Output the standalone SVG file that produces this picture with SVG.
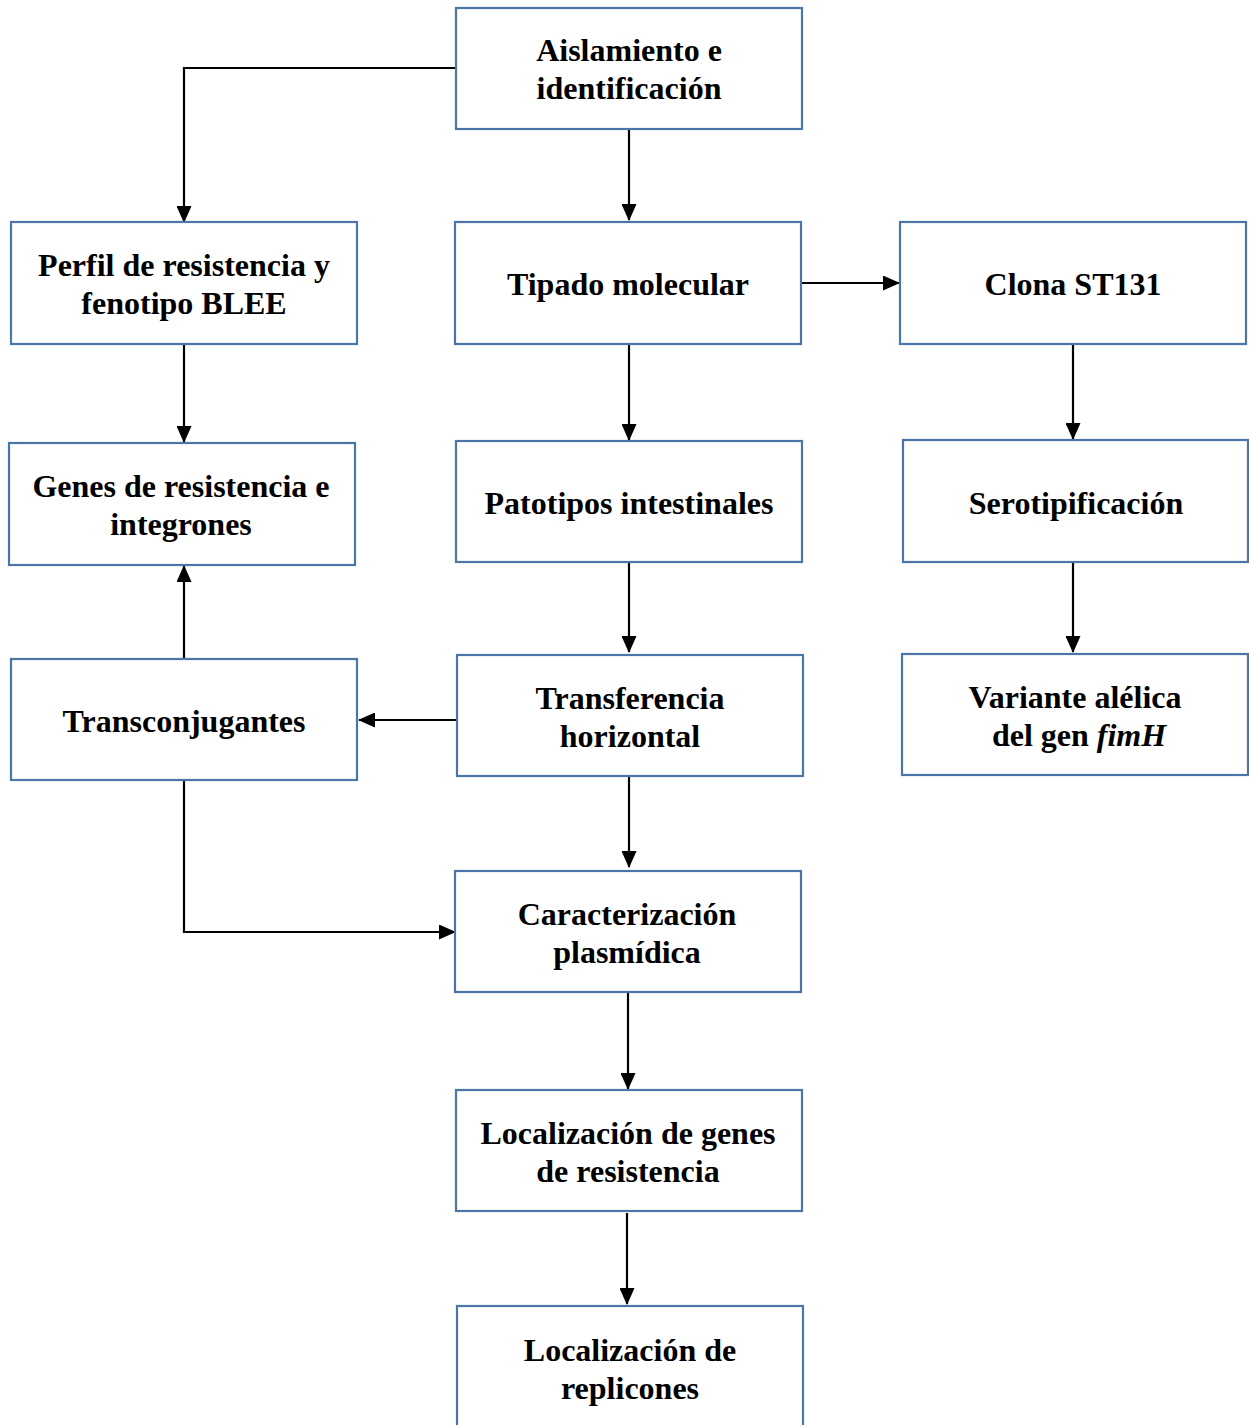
<svg xmlns="http://www.w3.org/2000/svg" width="1249" height="1425" viewBox="0 0 1249 1425">
<style>
.box{fill:#fff;stroke:#4a76a8;stroke-width:2.2}
.t{font-family:"Liberation Serif","Times New Roman",serif;font-weight:bold;font-size:32px;fill:#000;text-anchor:middle}
.c{fill:none;stroke:#000;stroke-width:2.2}
</style>
<defs>
<marker id="ah" markerUnits="userSpaceOnUse" markerWidth="17" markerHeight="15" refX="16" refY="7.5" orient="auto">
<path d="M0,0 L17,7.5 L0,15 Z" fill="#000"/>
</marker>
</defs>
<rect width="1249" height="1425" fill="#fff"/>
<g id="connectors">
<path class="c" d="M456,68 H184 V222" marker-end="url(#ah)"/>
<path class="c" d="M629,129 V220" marker-end="url(#ah)"/>
<path class="c" d="M801,283 H899" marker-end="url(#ah)"/>
<path class="c" d="M184,344 V442" marker-end="url(#ah)"/>
<path class="c" d="M629,344 V440" marker-end="url(#ah)"/>
<path class="c" d="M1073,342 V439" marker-end="url(#ah)"/>
<path class="c" d="M629,562 V652" marker-end="url(#ah)"/>
<path class="c" d="M1073,562 V652" marker-end="url(#ah)"/>
<path class="c" d="M457,720 H359" marker-end="url(#ah)"/>
<path class="c" d="M184,662 V566" marker-end="url(#ah)"/>
<path class="c" d="M184,773 V932 H455" marker-end="url(#ah)"/>
<path class="c" d="M629,776 V867" marker-end="url(#ah)"/>
<path class="c" d="M628,992 V1089" marker-end="url(#ah)"/>
<path class="c" d="M627,1213 V1304" marker-end="url(#ah)"/>
</g>
<g id="n-aislamiento"><rect class="box" x="456" y="8" width="346" height="121"/><text class="t" x="629" y="61">Aislamiento e</text><text class="t" x="629" y="99">identificación</text></g>
<g id="n-perfil"><rect class="box" x="11" y="222" width="346" height="122"/><text class="t" x="184" y="276">Perfil de resistencia y</text><text class="t" x="184" y="314">fenotipo BLEE</text></g>
<g id="n-tipado"><rect class="box" x="455" y="222" width="346" height="122"/><text class="t" x="628" y="295">Tipado molecular</text></g>
<g id="n-clona"><rect class="box" x="900" y="222" width="346" height="122"/><text class="t" x="1073" y="295">Clona ST131</text></g>
<g id="n-genes"><rect class="box" x="9" y="443" width="346" height="122"/><text class="t" x="181" y="497">Genes de resistencia e</text><text class="t" x="181" y="535">integrones</text></g>
<g id="n-patotipos"><rect class="box" x="456" y="441" width="346" height="121"/><text class="t" x="629" y="514">Patotipos intestinales</text></g>
<g id="n-serotipificacion"><rect class="box" x="903" y="440" width="345" height="122"/><text class="t" x="1076" y="514">Serotipificación</text></g>
<g id="n-transferencia"><rect class="box" x="457" y="655" width="346" height="121"/><text class="t" x="630" y="709">Transferencia</text><text class="t" x="630" y="747">horizontal</text></g>
<g id="n-transconjugantes"><rect class="box" x="11" y="659" width="346" height="121"/><text class="t" x="184" y="732">Transconjugantes</text></g>
<g id="n-variante"><rect class="box" x="902" y="654" width="346" height="121"/><text class="t" x="1075" y="708">Variante alélica</text><text class="t" x="1079" y="746">del gen <tspan font-style="italic">fimH</tspan></text></g>
<g id="n-caracterizacion"><rect class="box" x="455" y="871" width="346" height="121"/><text class="t" x="627" y="925">Caracterización</text><text class="t" x="627" y="963">plasmídica</text></g>
<g id="n-localizacion-genes"><rect class="box" x="456" y="1090" width="346" height="121"/><text class="t" x="628" y="1144">Localización de genes</text><text class="t" x="628" y="1182">de resistencia</text></g>
<g id="n-localizacion-replicones"><rect class="box" x="457" y="1306" width="346" height="130"/><text class="t" x="630" y="1361">Localización de</text><text class="t" x="630" y="1399">replicones</text></g>
</svg>
